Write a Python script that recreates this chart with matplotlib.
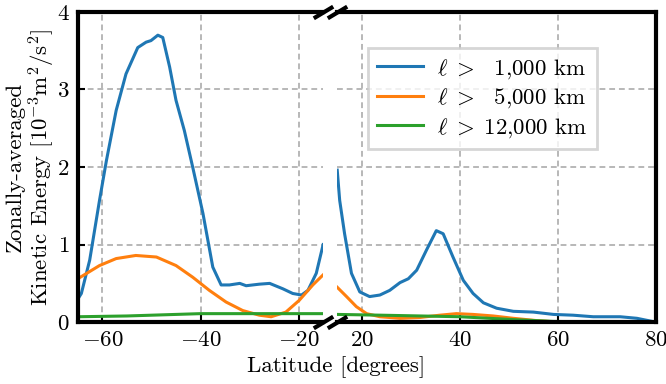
import numpy as np
import matplotlib
matplotlib.use("Agg")
import matplotlib.pyplot as plt

plt.rcParams.update({
    "font.family": "serif",
    "font.serif": ["cmr10"],
    "mathtext.fontset": "cm",
    "axes.formatter.use_mathtext": True,
    "font.size": 16.5,
})

# southern hemisphere
lat_s = [-65, -64.3, -62.6, -60.6, -59.2, -57.2, -55.2, -52.8, -51.1, -50.1, -48.7, -47.7,
         -46.3, -45.0, -43.3, -41.6, -39.5, -37.5, -35.8, -34.1, -32.0, -30.7, -28.0,
         -25.9, -23.2, -21.2, -19.4, -18.1, -16.4, -15.0]
ke1_s = [0.30, 0.37, 0.80, 1.57, 2.08, 2.73, 3.20, 3.54, 3.61, 3.63, 3.70, 3.67,
         3.29, 2.86, 2.47, 2.00, 1.40, 0.71, 0.48, 0.48, 0.50, 0.47, 0.49,
         0.50, 0.43, 0.37, 0.35, 0.41, 0.63, 1.00]
lat_s2 = [-65, -64.5, -60.6, -57.2, -53.2, -49.0, -45.0, -41.6, -38.2, -34.8, -31.4,
          -28.0, -25.6, -22.6, -19.9, -17.1, -15.0]
ke5_s = [0.56, 0.58, 0.73, 0.82, 0.86, 0.84, 0.73, 0.58, 0.41, 0.26, 0.15,
         0.09, 0.07, 0.13, 0.28, 0.48, 0.61]
lat_s3 = [-65, -55, -45, -40, -30, -20, -15]
ke12_s = [0.07, 0.08, 0.10, 0.11, 0.11, 0.11, 0.11]

# northern hemisphere
lat_n = [15.0, 15.5, 16.5, 17.9, 19.6, 21.6, 23.7, 25.7, 27.8, 29.5, 31.2, 33.2, 35.2,
         36.6, 38.6, 40.7, 42.7, 44.8, 47.5, 50.9, 55.0, 59.1, 63.1, 67.2, 72.7,
         76.1, 80.0]
ke1_n = [1.96, 1.57, 1.14, 0.63, 0.39, 0.33, 0.35, 0.41, 0.51, 0.56, 0.67, 0.93, 1.18,
         1.14, 0.84, 0.54, 0.37, 0.25, 0.18, 0.14, 0.13, 0.10, 0.09, 0.07, 0.07,
         0.05, 0.00]
lat_n2 = [15.0, 16.9, 18.9, 21.0, 23.7, 27.8, 31.8, 35.9, 39.3, 42.7, 46.8, 50.9,
          55.7, 60.4, 70.0, 80.0]
ke5_n = [0.45, 0.33, 0.20, 0.11, 0.07, 0.05, 0.06, 0.09, 0.11, 0.10, 0.08, 0.05,
         0.02, 0.00, 0.00, 0.00]
lat_n3 = [15, 24, 32, 40, 46, 52, 59, 70, 80]
ke12_n = [0.10, 0.09, 0.08, 0.07, 0.05, 0.03, 0.01, 0.00, 0.00]

labels = [r"$\ell\;>\;\enspace 1{,}000$ km", r"$\ell\;>\;\enspace 5{,}000$ km",
          r"$\ell\;>\;12{,}000$ km"]
colors = ["#1f77b4", "#ff7f0e", "#2ca02c"]

fig, (ax1, ax2) = plt.subplots(1, 2, sharey=True, figsize=(6.66, 3.84), dpi=100,
                               gridspec_kw={"width_ratios": [50, 65]})
fig.subplots_adjust(left=0.117, right=0.985, top=0.969, bottom=0.161, wspace=0.05)

lw = 2.2
ax1.plot(lat_s, ke1_s, color=colors[0], lw=lw)
ax1.plot(lat_s2, ke5_s, color=colors[1], lw=lw)
ax1.plot(lat_s3, ke12_s, color=colors[2], lw=lw)
ax2.plot(lat_n, ke1_n, color=colors[0], lw=lw, label=labels[0])
ax2.plot(lat_n2, ke5_n, color=colors[1], lw=lw, label=labels[1])
ax2.plot(lat_n3, ke12_n, color=colors[2], lw=lw, label=labels[2])

ax1.set_xlim(-65, -15)
ax2.set_xlim(15, 80)
ax1.set_ylim(0, 4)
ax1.set_xticks([-60, -40, -20])
ax2.set_xticks([20, 40, 60, 80])
ax1.set_yticks([0, 1, 2, 3, 4])

for ax in (ax1, ax2):
    ax.grid(True, color="#b8b8b8", ls=(0, (3, 2)), lw=1.4)
    ax.tick_params(direction="in", length=5, width=1.5, color="k", pad=6)
    for s in ax.spines.values():
        s.set_linewidth(3)
ax1.spines["right"].set_visible(False)
ax2.spines["left"].set_visible(False)
ax2.tick_params(left=False)

# break marks
d = 0.6
kw = dict(marker=[(-1, -d), (1, d)], markersize=14, linestyle="none",
          color="k", mec="k", mew=3, clip_on=False)
ax1.plot([1, 1], [0, 1], transform=ax1.transAxes, **kw)
ax2.plot([0, 0], [0, 1], transform=ax2.transAxes, **kw)

ax1.set_ylabel("Zonally-averaged\n" + r"Kinetic Energy [$10^{-3}\mathrm{m}^2/\mathrm{s}^2$]",
               linespacing=1.1)
ax1.yaxis.set_label_coords(-0.085, 0.5)
fig.text(0.505, 0.015, "Latitude [degrees]", ha="center", va="bottom")

leg = ax2.legend(loc="upper left", bbox_to_anchor=(0.097, 0.884), borderaxespad=0,
                 fancybox=False, handlelength=2.0, handletextpad=0.6,
                 labelspacing=0.25, borderpad=0.4, framealpha=0.8)
leg.get_frame().set_edgecolor("#cccccc")
leg.get_frame().set_linewidth(2)

fig.savefig("out.png", dpi=100)
